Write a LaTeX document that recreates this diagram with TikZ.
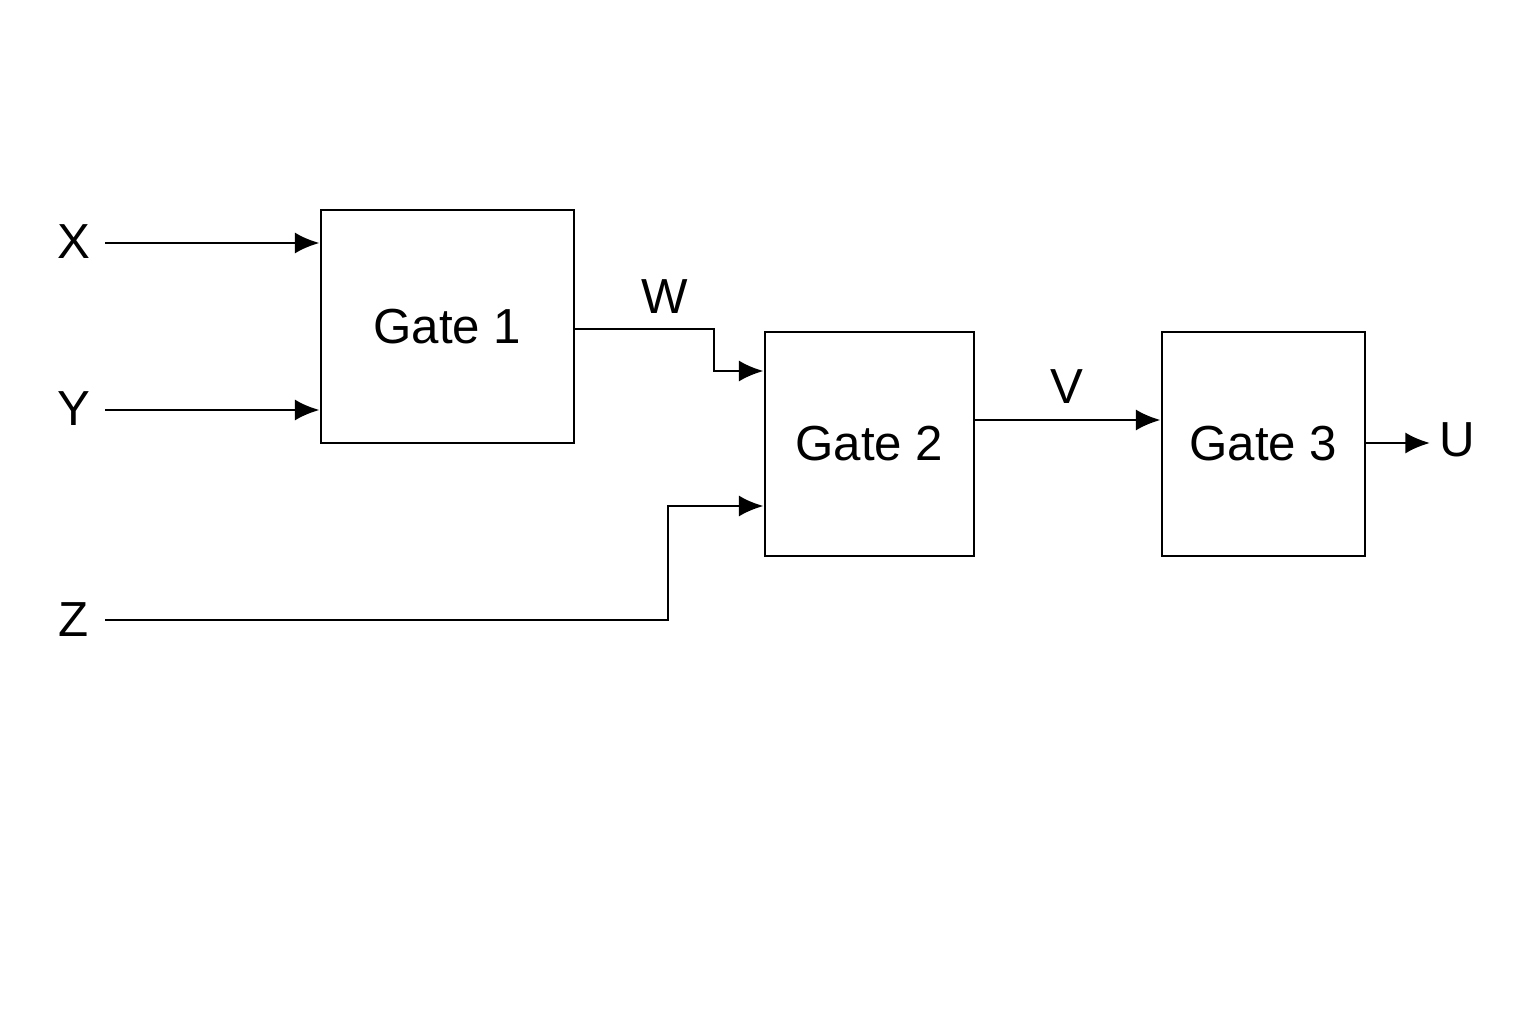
\documentclass[tikz,border=0pt]{standalone}
\usepackage{fontspec}
\setmainfont{Liberation Sans}
\usetikzlibrary{arrows.meta,positioning}

\begin{document}
\begin{tikzpicture}[x=0.01cm,y=-0.01cm,
  gatebox/.style={draw,thick,inner sep=0pt,font=\fontsize{14}{16}\selectfont},
  lbl/.style={font=\fontsize{14}{16}\selectfont},
  sig/.style={thick,-{Latex[length=7pt,width=6pt]}}]
\useasboundingbox (0,0) rectangle (1536,1024);
% gates
\node[gatebox,minimum width=2.53cm,minimum height=2.33cm] (g1) at (447.5,326.5) {Gate 1};
\node[gatebox,minimum width=2.09cm,minimum height=2.24cm] (g2) at (869.5,444) {Gate 2};
\node[gatebox,minimum width=2.03cm,minimum height=2.24cm] (g3) at (1263.5,444) {Gate 3};

% inputs
\node[lbl] (x) at (74,242) {X};
\node[lbl] (y) at (74,409) {Y};
\node[lbl] (z) at (74,620) {Z};
\coordinate (xs) at (105,243);
\coordinate (ys) at (105,410);
\coordinate (zs) at (105,620);
\draw[sig] (xs) -- (g1.west |- xs);
\draw[sig] (ys) -- (g1.west |- ys);
\draw[sig] (zs) -- (668,620) -- (668,506) -- (g2.west |- 0,506);

% internal signals
\node[lbl] (w) at (665,297) {W};
\draw[sig] (g1.east |- 0,329) -- (714,329) -- (714,371) -- (g2.west |- 0,371);
\node[lbl] (v) at (1067,387) {V};
\draw[sig] (g2.east |- 0,420) -- (g3.west |- 0,420);

% output
\node[lbl] (u) at (1457,440) {U};
\draw[sig] (g3.east |- 0,443) -- (1430,443);
\end{tikzpicture}
\end{document}
